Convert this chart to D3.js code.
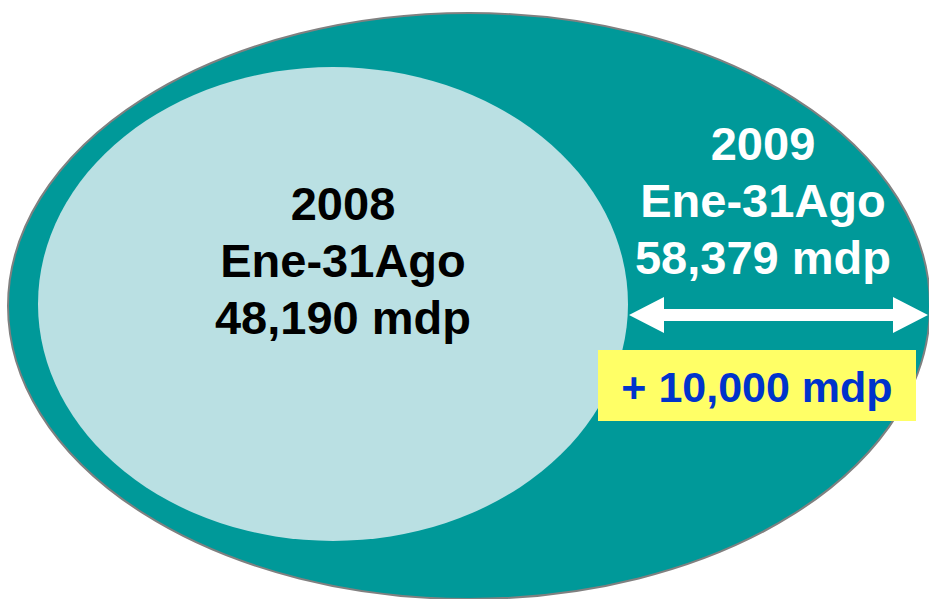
<!DOCTYPE html>
<html>
<head>
<meta charset="utf-8">
<script src="https://cdn.jsdelivr.net/npm/d3@7"></script>
<style>
html,body{margin:0;padding:0;background:#fff;}
svg{display:block;}
</style>
</head>
<body>
<svg id="chart" width="929" height="599"></svg>
<script>
// Data
const years = ["2008", "2009"];
const periods = ["Ene-31Ago", "Ene-31Ago"];
const values = [48190, 58379];
const increaseLabel = "+ 10,000 mdp";

const fmt = d3.format(",");
const svg = d3.select("#chart");

// Outer ellipse (2009)
const outer = {cx: 469, cy: 306, rx: 461, ry: 293};
// Inner ellipse (2008)
const inner = {cx: 333, cy: 304, rx: 295, ry: 237};

svg.append("ellipse")
  .attr("cx", outer.cx).attr("cy", outer.cy)
  .attr("rx", outer.rx).attr("ry", outer.ry)
  .attr("fill", "#009999")
  .attr("stroke", "#808080").attr("stroke-width", 2);

svg.append("ellipse")
  .attr("cx", inner.cx).attr("cy", inner.cy)
  .attr("rx", inner.rx).attr("ry", inner.ry)
  .attr("fill", "#BAE0E3");

const font = "'Liberation Sans', Arial, Helvetica, sans-serif";

function block(cx, y0, lines, color){
  const t = svg.append("text")
    .attr("text-anchor", "middle")
    .attr("font-family", font)
    .attr("font-weight", "bold")
    .attr("font-size", 47)
    .attr("fill", color);
  lines.forEach((s, i) => {
    t.append("tspan").attr("x", cx).attr("y", y0 + i * 57).text(s);
  });
}

block(343, 220, [years[0], periods[0], fmt(values[0]) + " mdp"], "#000000");
block(763, 160, [years[1], periods[1], fmt(values[1]) + " mdp"], "#FFFFFF");

// Double arrow
const ay = 315, ax0 = 629, ax1 = 928, head = 35, hw = 18, sw = 6;
const arrowPts = [
  [ax0, ay], [ax0 + head, ay - hw], [ax0 + head, ay - sw],
  [ax1 - head, ay - sw], [ax1 - head, ay - hw], [ax1, ay],
  [ax1 - head, ay + hw], [ax1 - head, ay + sw], [ax0 + head, ay + sw],
  [ax0 + head, ay + hw]
];
svg.append("path")
  .attr("d", d3.line()(arrowPts) + "Z")
  .attr("fill", "#FFFFFF");

// Increase label box
svg.append("rect")
  .attr("x", 598).attr("y", 350)
  .attr("width", 318).attr("height", 71)
  .attr("fill", "#FFFF66");

svg.append("text")
  .attr("x", 757).attr("y", 402)
  .attr("text-anchor", "middle")
  .attr("font-family", font)
  .attr("font-weight", "bold")
  .attr("font-size", 43)
  .attr("fill", "#0033CC")
  .text(increaseLabel);
</script>
</body>
</html>
